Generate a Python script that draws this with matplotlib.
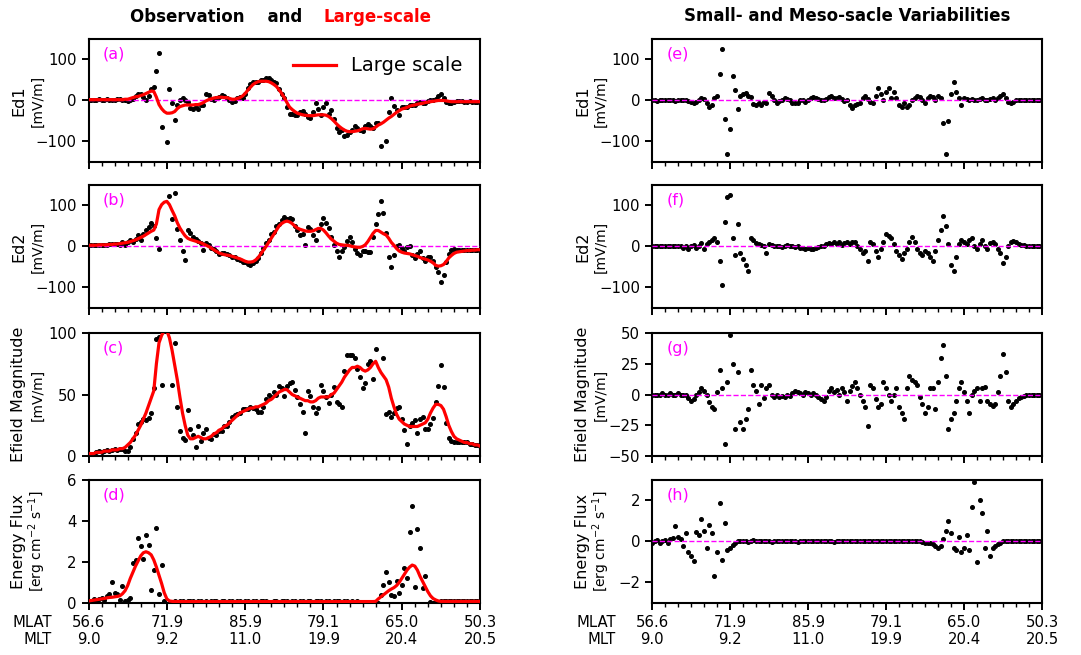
import numpy as np
import matplotlib.pyplot as plt
from matplotlib.ticker import MultipleLocator

# sample times along the pass (minutes), one sample every 0.2 min
time_min = np.arange(151) * 0.2
tick_min = [0, 6, 12, 18, 24, 30]
mlat_labels = ['56.6', '71.9', '85.9', '79.1', '65.0', '50.3']
mlt_labels = ['9.0', '9.2', '11.0', '19.9', '20.4', '20.5']

# Ed1 [mV/m]: large-scale part and small/meso-scale residual
ed1_large = [2, 2, 2, 2, 2, 2, 2, 2, 2, 2, 2, 2, 2, 2, 3, 3,
             5, 7, 9, 10, 12, 14, 17, 20, 23, 22, 8, -10, -20, -27, -31,
             -31, -30, -27, -20, -15, -13, -11, -11, -11, -11, -10, -10, -8, -5, -1,
             2, 4, 6, 7, 8, 8, 7, 7, 5, 3, 3, 5, 7, 11, 17,
             25, 32, 39, 43, 46, 47, 47, 47, 46, 43, 39, 34, 26, 17, 7,
             -5, -16, -22, -27, -31, -33, -35, -36, -37, -37, -37, -36, -35, -35, -35,
             -36, -39, -44, -50, -57, -63, -68, -72, -75, -76, -76, -75, -74, -72, -69,
             -68, -69, -70, -69, -65, -60, -57, -53, -48, -43, -39, -34, -29, -25, -21,
             -19, -17, -14, -12, -11, -9, -8, -7, -5, -4, -3, -2, -1, 0, 0,
             0, -1, -2, -3, -3, -3, -3, -3, -3, -3, -3, -3, -3, -3, -3]
ed1_small = [0, 0, -1, 0, 1, 0, 0, 1, 0, -1, 0, 1, 2, 0, -2, -4,
             -5, -3, 2, 5, 3, -5, -15, -10, 5, 10, 65, 125, -45, -130, -70,
             60, 25, -20, 10, 15, 18, 12, 8, -8, -10, -5, -10, -3, -5, 18,
             12, 0, -5, -2, 0, 5, 3, 0, -5, -7, -5, 0, 2, -4, 0,
             5, 8, 5, 3, 0, 2, 4, 8, 10, 6, 5, 8, 3, -2, 0,
             -10, -18, -12, -8, -5, 5, 10, 3, -3, -5, 10, 30, 15, 0, 20,
             30, 5, 20, 5, -10, -15, -5, -15, -10, 0, 5, 12, 8, 0, -5,
             5, 12, 8, 2, 10, 5, -55, -130, -50, 15, 45, 20, 5, -10, 5,
             3, 0, 4, 2, 0, 3, 5, 2, 0, 3, 5, 2, 5, 10, 15,
             5, -3, -5, -3, 0, 1, 2, 1, 0, 0, 1, 0, 0, 0, 0]

# Ed2 [mV/m]
ed2_large = [3, 3, 3, 3, 4, 4, 4, 4, 5, 5, 6, 6, 7, 8, 9, 10,
             12, 14, 16, 19, 22, 25, 29, 33, 37, 40, 55, 90, 102, 108, 110,
             102, 88, 75, 58, 45, 35, 26, 20, 17, 15, 13, 11, 9, 6, 3,
             0, -4, -8, -12, -16, -18, -20, -21, -22, -24, -26, -28, -30, -33, -36,
             -38, -38, -37, -33, -27, -18, -9, 0, 10, 20, 30, 40, 50, 56, 60,
             62, 60, 56, 50, 45, 42, 40, 38, 37, 37, 38, 41, 44, 44, 40,
             33, 25, 18, 13, 8, 5, 4, 3, 3, 2, 0, -1, -2, -2, 0,
             4, 12, 22, 32, 39, 39, 35, 31, 28, 20, 10, 3, -5, -11, -14,
             -16, -17, -18, -20, -22, -24, -27, -29, -31, -33, -36, -40, -46, -48, -47,
             -44, -37, -28, -22, -17, -14, -13, -12, -11, -10, -10, -9, -9, -8, -8]
ed2_small = [0, 0, 0, 0, 0, 0, 0, 0, 0, 0, 0, 0, -3, 2, -5, 0,
             3, -4, 2, 8, -5, 5, 10, 15, 20, 10, -35, -95, 60, 120, 125,
             20, -20, 55, -15, -30, -45, -60, 20, 15, 8, 5, 3, 0, -15, 5,
             3, 0, 2, 0, -2, 2, 3, 2, 0, -2, 0, -3, -4, -5, -3,
             -5, -6, -4, -2, 0, 2, 5, 8, 5, 10, 6, 10, 4, 8, 12,
             5, 10, 12, 0, -5, -15, -10, -35, 10, 5, -10, -25, -5, 10, 30,
             25, 20, 5, -10, -20, -30, -15, -5, 10, 22, 10, -5, -15, -20, -12,
             -15, -25, -35, -10, 15, 40, 75, 50, 5, -45, -60, -25, 5, 15, 10,
             5, 15, 20, 0, -5, 5, 15, 0, -5, 8, 10, 5, -5, -15, -40,
             -25, 0, 10, 14, 10, 6, 4, 3, 2, 2, 1, 1, 0, 0, 0]

# Efield magnitude [mV/m]
emag_large = [2, 2, 2, 3, 3, 3, 4, 4, 4, 5, 5, 5, 6, 6, 7, 9,
              11, 14, 17, 21, 25, 30, 35, 41, 47, 53, 75, 92, 98, 102, 102,
              96, 86, 74, 62, 48, 35, 25, 17, 14, 14, 15, 16, 15, 14, 14,
              15, 16, 18, 19, 21, 22, 24, 25, 27, 29, 31, 33, 35, 36, 37,
              38, 39, 39, 40, 40, 41, 42, 43, 45, 46, 48, 50, 52, 53, 54,
              54, 52, 50, 49, 48, 47, 46, 45, 45, 44, 44, 45, 47, 48, 48,
              48, 48, 50, 51, 54, 57, 60, 64, 67, 70, 72, 72, 73, 72, 70,
              69, 70, 72, 75, 77, 72, 68, 65, 62, 56, 47, 40, 34, 30, 28,
              26, 25, 24, 24, 24, 24, 25, 26, 27, 30, 35, 39, 42, 42, 41,
              38, 32, 25, 20, 16, 14, 13, 12, 11, 11, 10, 10, 9, 9, 8]
emag_small = [0, 0, 0, 0, 1, 0, 0, 1, 0, 0, 1, 0, 0, 0, -3, -5,
              -4, 0, 2, 5, 3, 0, -6, -10, -12, 2, 20, 5, -40, 10, 48,
              25, -28, 18, -22, -28, -20, -12, 20, 8, 3, -8, 8, -3, 5, 8,
              0, -2, 0, -2, -1, -2, 0, -1, 1, 3, 2, 1, 0, 2, 1,
              0, 1, 0, -2, -4, -5, -2, 3, 5, 2, 4, 0, 5, 2, -5,
              3, 7, 10, 5, 0, -5, -10, -26, 8, 5, -4, -10, -8, 10, 5,
              0, -5, 0, 5, -10, -15, -20, 5, 15, 12, 10, 8, -2, -8, -15,
              -10, 5, 5, -12, 10, 30, 40, 15, -28, -20, -15, -5, 5, 10, 2,
              -5, -15, 0, 3, 5, -5, 5, 6, -5, -8, -9, -8, 2, 15, 33,
              18, -5, -10, -8, -5, -3, -2, -1, 0, 0, 0, 0, 0, 0, 0]

# Energy flux [erg cm^-2 s^-1]
flux_large = [0.10, 0.12, 0.14, 0.16, 0.18, 0.20, 0.22, 0.25, 0.27, 0.28, 0.30,
              0.32, 0.35, 0.45, 0.60, 0.85, 1.20, 1.50, 1.80, 2.05, 2.30, 2.45,
              2.50, 2.45, 2.35, 2.10, 1.75, 1.35, 0.95, 0.50, 0.20, 0.10, 0.08,
              0.07, 0.07, 0.07, 0.07, 0.07, 0.07, 0.07, 0.07, 0.07, 0.07, 0.07,
              0.07, 0.07, 0.07, 0.07, 0.07, 0.07, 0.07, 0.07, 0.07, 0.07, 0.07,
              0.07, 0.07, 0.07, 0.07, 0.07, 0.07, 0.07, 0.07, 0.07, 0.07, 0.07,
              0.07, 0.07, 0.07, 0.07, 0.07, 0.07, 0.07, 0.07, 0.07, 0.07, 0.07,
              0.07, 0.07, 0.07, 0.07, 0.07, 0.07, 0.07, 0.07, 0.07, 0.07, 0.07,
              0.07, 0.07, 0.07, 0.07, 0.07, 0.07, 0.07, 0.07, 0.07, 0.07, 0.07,
              0.07, 0.07, 0.07, 0.07, 0.07, 0.07, 0.07, 0.07, 0.07, 0.07, 0.07,
              0.08, 0.20, 0.30, 0.40, 0.50, 0.60, 0.68, 0.75, 0.85, 1.00, 1.20,
              1.40, 1.60, 1.75, 1.85, 1.80, 1.60, 1.30, 1.05, 0.80, 0.55, 0.35,
              0.22, 0.15, 0.10, 0.08, 0.08, 0.08, 0.08, 0.08, 0.08, 0.08, 0.08,
              0.08, 0.08, 0.08, 0.08, 0.08, 0.08, 0.08, 0.08]
flux_small = [-0.05, 0.0, 0.05, -0.05, 0.0, 0.05, -0.05, 0.1, 0.15, 0.75, 0.2,
              0.1, -0.2, 0.4, -0.5, -0.7, -0.95, 0.45, 0.3, 1.1, 0.5, -0.3,
              0.8, 0.4, -1.7, -0.5, 1.9, -0.9, 0.9, -0.4, -0.3, -0.15, -0.05,
              0.02, 0.0, 0.03, 0.01, -0.01, 0.02, 0.05, 0.02, 0.0, 0.01, 0.03,
              0.0, 0.02, -0.01, 0.01, 0.04, 0.02, 0.0, 0.01, 0.03, 0.0, 0.02,
              0.01, -0.01, 0.02, 0.03, 0.0, 0.01, 0.02, 0.0, 0.03, 0.01, 0.0,
              0.02, 0.01, 0.03, 0.0, -0.01, 0.02, 0.01, 0.0, 0.02, 0.03, 0.01,
              0.0, 0.02, 0.01, 0.0, 0.03, 0.02, 0.0, 0.01, 0.02, 0.0, 0.01,
              0.03, 0.01, 0.0, 0.02, 0.01, 0.0, 0.02, 0.03, 0.01, 0.0, 0.02,
              0.01, 0.0, 0.02, 0.0, 0.01, -0.03, -0.05, -0.05, -0.08,
              -0.1, -0.2, -0.3, -0.2, 0.1, 0.5, 1.0, 0.4, -0.3, -0.4, 0.2,
              -0.5, -0.3, 0.3, -0.4, 1.7, 2.9, -1.0, 2.0, 1.4, -0.3, 0.5,
              -0.7, -0.3, -0.2, -0.1, -0.05, 0.0, 0.02, 0.0, 0.01, 0.02, 0.0,
              0.01, 0.0, 0.02, 0.01, 0.0, 0.01, 0.0, 0.01, 0.0, 0.01]

names = ['Ed1', 'Ed2', 'Efield Magnitude', 'Energy Flux']
units = ['[mV/m]', '[mV/m]', '[mV/m]', '[erg cm$^{-2}$ s$^{-1}$]']
large_sets = [ed1_large, ed2_large, emag_large, flux_large]
small_sets = [ed1_small, ed2_small, emag_small, flux_small]

left_ylims = [(-150, 150), (-150, 150), (0, 100), (0, 6)]
left_yticks = [[-100, 0, 100], [-100, 0, 100], [0, 50, 100], [0, 2, 4, 6]]
right_ylims = [(-150, 150), (-150, 150), (-50, 50), (-3, 3)]
right_yticks = [[-100, 0, 100], [-100, 0, 100], [-50, -25, 0, 25, 50], [-2, 0, 2]]
left_tags = ['(a)', '(b)', '(c)', '(d)']
right_tags = ['(e)', '(f)', '(g)', '(h)']

plt.rcParams['font.family'] = ['DejaVu Sans']
fig = plt.figure(figsize=(10.81, 6.55), dpi=100)

col_left = [0.0819, 0.6032]
col_width = [0.3622, 0.3608]
row_bottom = [0.7527, 0.5298, 0.3038, 0.0794]
row_height = 0.1878


def style_axis(ax, ylim, yticks, bottom_row):
    ax.set_xlim(0, 30)
    ax.set_ylim(*ylim)
    ax.set_yticks(yticks)
    ax.set_xticks(tick_min)
    ax.xaxis.set_minor_locator(MultipleLocator(1))
    for sp in ax.spines.values():
        sp.set_linewidth(1.5)
    ax.tick_params(which='major', direction='out', length=5, width=1.4,
                   labelsize=10.7, top=False, right=False)
    ax.tick_params(which='minor', direction='out', length=2.6, width=1.0,
                   top=False, right=False)
    if bottom_row:
        ax.set_xticklabels([f'{a}\n{b}' for a, b in zip(mlat_labels, mlt_labels)])
        ax.annotate('MLAT\nMLT', xy=(-0.093, 0), xycoords='axes fraction',
                    xytext=(0, -8.5), textcoords='offset points', ha='right',
                    va='top', multialignment='right', fontsize=10.7)
    else:
        ax.tick_params(labelbottom=False)


for col in range(2):
    for row in range(4):
        ax = fig.add_axes([col_left[col], row_bottom[row], col_width[col], row_height])
        large = np.array(large_sets[row])
        small = np.array(small_sets[row])
        if col == 0:
            obs = large + small
            ax.plot(time_min, obs, '.', color='k', ms=5.2, zorder=2)
            ax.plot(time_min, large, color='red', lw=2.3, zorder=4,
                    label='Large scale')
            if row < 2:
                ax.axhline(0, color='magenta', ls='--', lw=1, zorder=3)
            style_axis(ax, left_ylims[row], left_yticks[row], row == 3)
            tag = left_tags[row]
            if row == 0:
                ax.legend(loc='upper right', frameon=False, fontsize=14,
                          handlelength=2.2)
                ax.annotate('Observation    and', xy=(0.545, 1), xycoords='axes fraction',
                            xytext=(0, 12.2), textcoords='offset points',
                            ha='right', va='baseline', fontsize=12, fontweight='bold')
                ax.annotate('Large-scale', xy=(0.599, 1), xycoords='axes fraction',
                            xytext=(0, 12.2), textcoords='offset points',
                            ha='left', va='baseline', fontsize=12, fontweight='bold',
                            color='red')
        else:
            ax.plot(time_min, small, '.', color='k', ms=5.2, zorder=2)
            ax.axhline(0, color='magenta', ls='--', lw=1, zorder=3)
            style_axis(ax, right_ylims[row], right_yticks[row], row == 3)
            tag = right_tags[row]
            if row == 0:
                ax.annotate('Small- and Meso-sacle Variabilities', xy=(0.5, 1),
                            xycoords='axes fraction', xytext=(0, 12.8),
                            textcoords='offset points', ha='center', va='baseline',
                            fontsize=12, fontweight='bold')
        ax.text(0.037, 0.935, tag, color='magenta', fontsize=11.5,
                transform=ax.transAxes, va='top', ha='left')
        ax.text(-0.178, 0.5, names[row], rotation=90, transform=ax.transAxes,
                ha='center', va='center', fontsize=11.5)
        ax.text(-0.131, 0.5, units[row], rotation=90, transform=ax.transAxes,
                ha='center', va='center', fontsize=10)

fig.savefig('out.png', dpi=100)
